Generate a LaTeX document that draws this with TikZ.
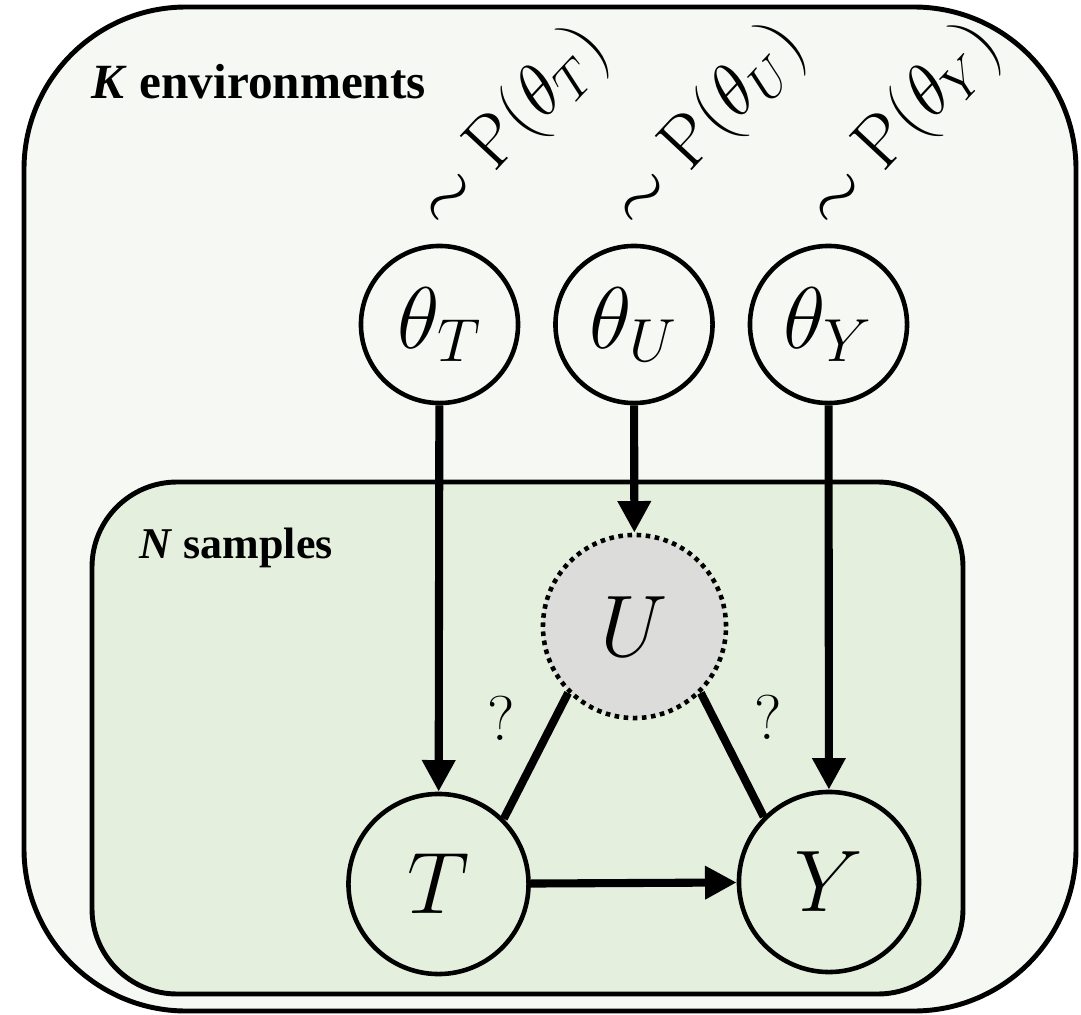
\documentclass[tikz,border=0pt]{standalone}
\usepackage{fontspec}
\newfontfamily\platefont{Liberation Serif}
\usetikzlibrary{arrows.meta}
\definecolor{envfill}{RGB}{246,249,243}
\definecolor{samplefill}{RGB}{228,240,221}
\definecolor{latentfill}{RGB}{220,221,218}

\begin{document}
\begin{tikzpicture}[x=0.01cm, y=-0.01cm,
    var/.style={draw, circle, line width=1.3pt, inner sep=0pt, font=\fontsize{27}{31}\selectfont},
    param/.style={var, minimum size=1.57cm, fill=envfill},
    obs/.style={var, minimum size=1.8cm, fill=samplefill},
    latent/.style={var, minimum size=1.83cm, fill=latentfill, dash pattern=on 1.3pt off 1.3pt},
    edge/.style={line width=2.3pt, -{Triangle[length=9pt,width=9pt]}},
    link/.style={line width=2.3pt},
    prior/.style={rotate=47, anchor=base west, inner sep=1pt, font=\fontsize{21}{25}\selectfont},
    ask/.style={font=\fontsize{18}{21}\selectfont},
    plate/.style={line width=1.4pt}]
    \useasboundingbox (0,0) rectangle (1081,1015);

    % Plates
    \draw[plate, fill=envfill, rounded corners=1.62cm] (24,7) rectangle (1076,1011);
    \draw[plate, fill=samplefill, rounded corners=0.85cm] (92,482) rectangle (963,994);
    \node[anchor=base west, inner sep=0pt, font=\platefont\fontsize{14}{16}\selectfont\bfseries] (klabel) at (91,98) {\textit{K} environments};
    \node[anchor=base west, inner sep=0pt, font=\platefont\fontsize{12.5}{15}\selectfont\bfseries] (nlabel) at (139,558) {\textit{N} samples};

    % Nodes
    \node[param] (tt) at (439.5,324.5) {$\theta_T$};
    \node[param] (tu) at (634,324.5) {$\theta_U$};
    \node[param] (ty) at (828.5,324.5) {$\theta_Y$};
    \node[latent] (u) at (634.5,626.5) {$U$};
    \node[obs] (t) at (438.5,884) {$T$};
    \node[obs] (y) at (829,882) {$Y$};

    % Priors
    \node[prior] (pt) at ([yshift=3pt]tt.north) {$\sim \mathrm{P}(\theta_T)$};
    \node[prior] (pu) at ([yshift=3pt]tu.north) {$\sim \mathrm{P}(\theta_U)$};
    \node[prior] (py) at ([yshift=3pt]ty.north) {$\sim \mathrm{P}(\theta_Y)$};

    % Arrows
    \draw[edge] (tt) -- (t);
    \draw[edge] (tu) -- (u);
    \draw[edge] (ty) -- (y);
    \draw[edge] (t) -- (y);

    % Unknown links
    \draw[link] (u.south west) -- node[ask, pos=0.2, left=0.25cm] (qt) {?} (t.north east);
    \draw[link] (u.south east) -- node[ask, pos=0.2, right=0.25cm] (qy) {?} (y.north west);
\end{tikzpicture}
\end{document}
